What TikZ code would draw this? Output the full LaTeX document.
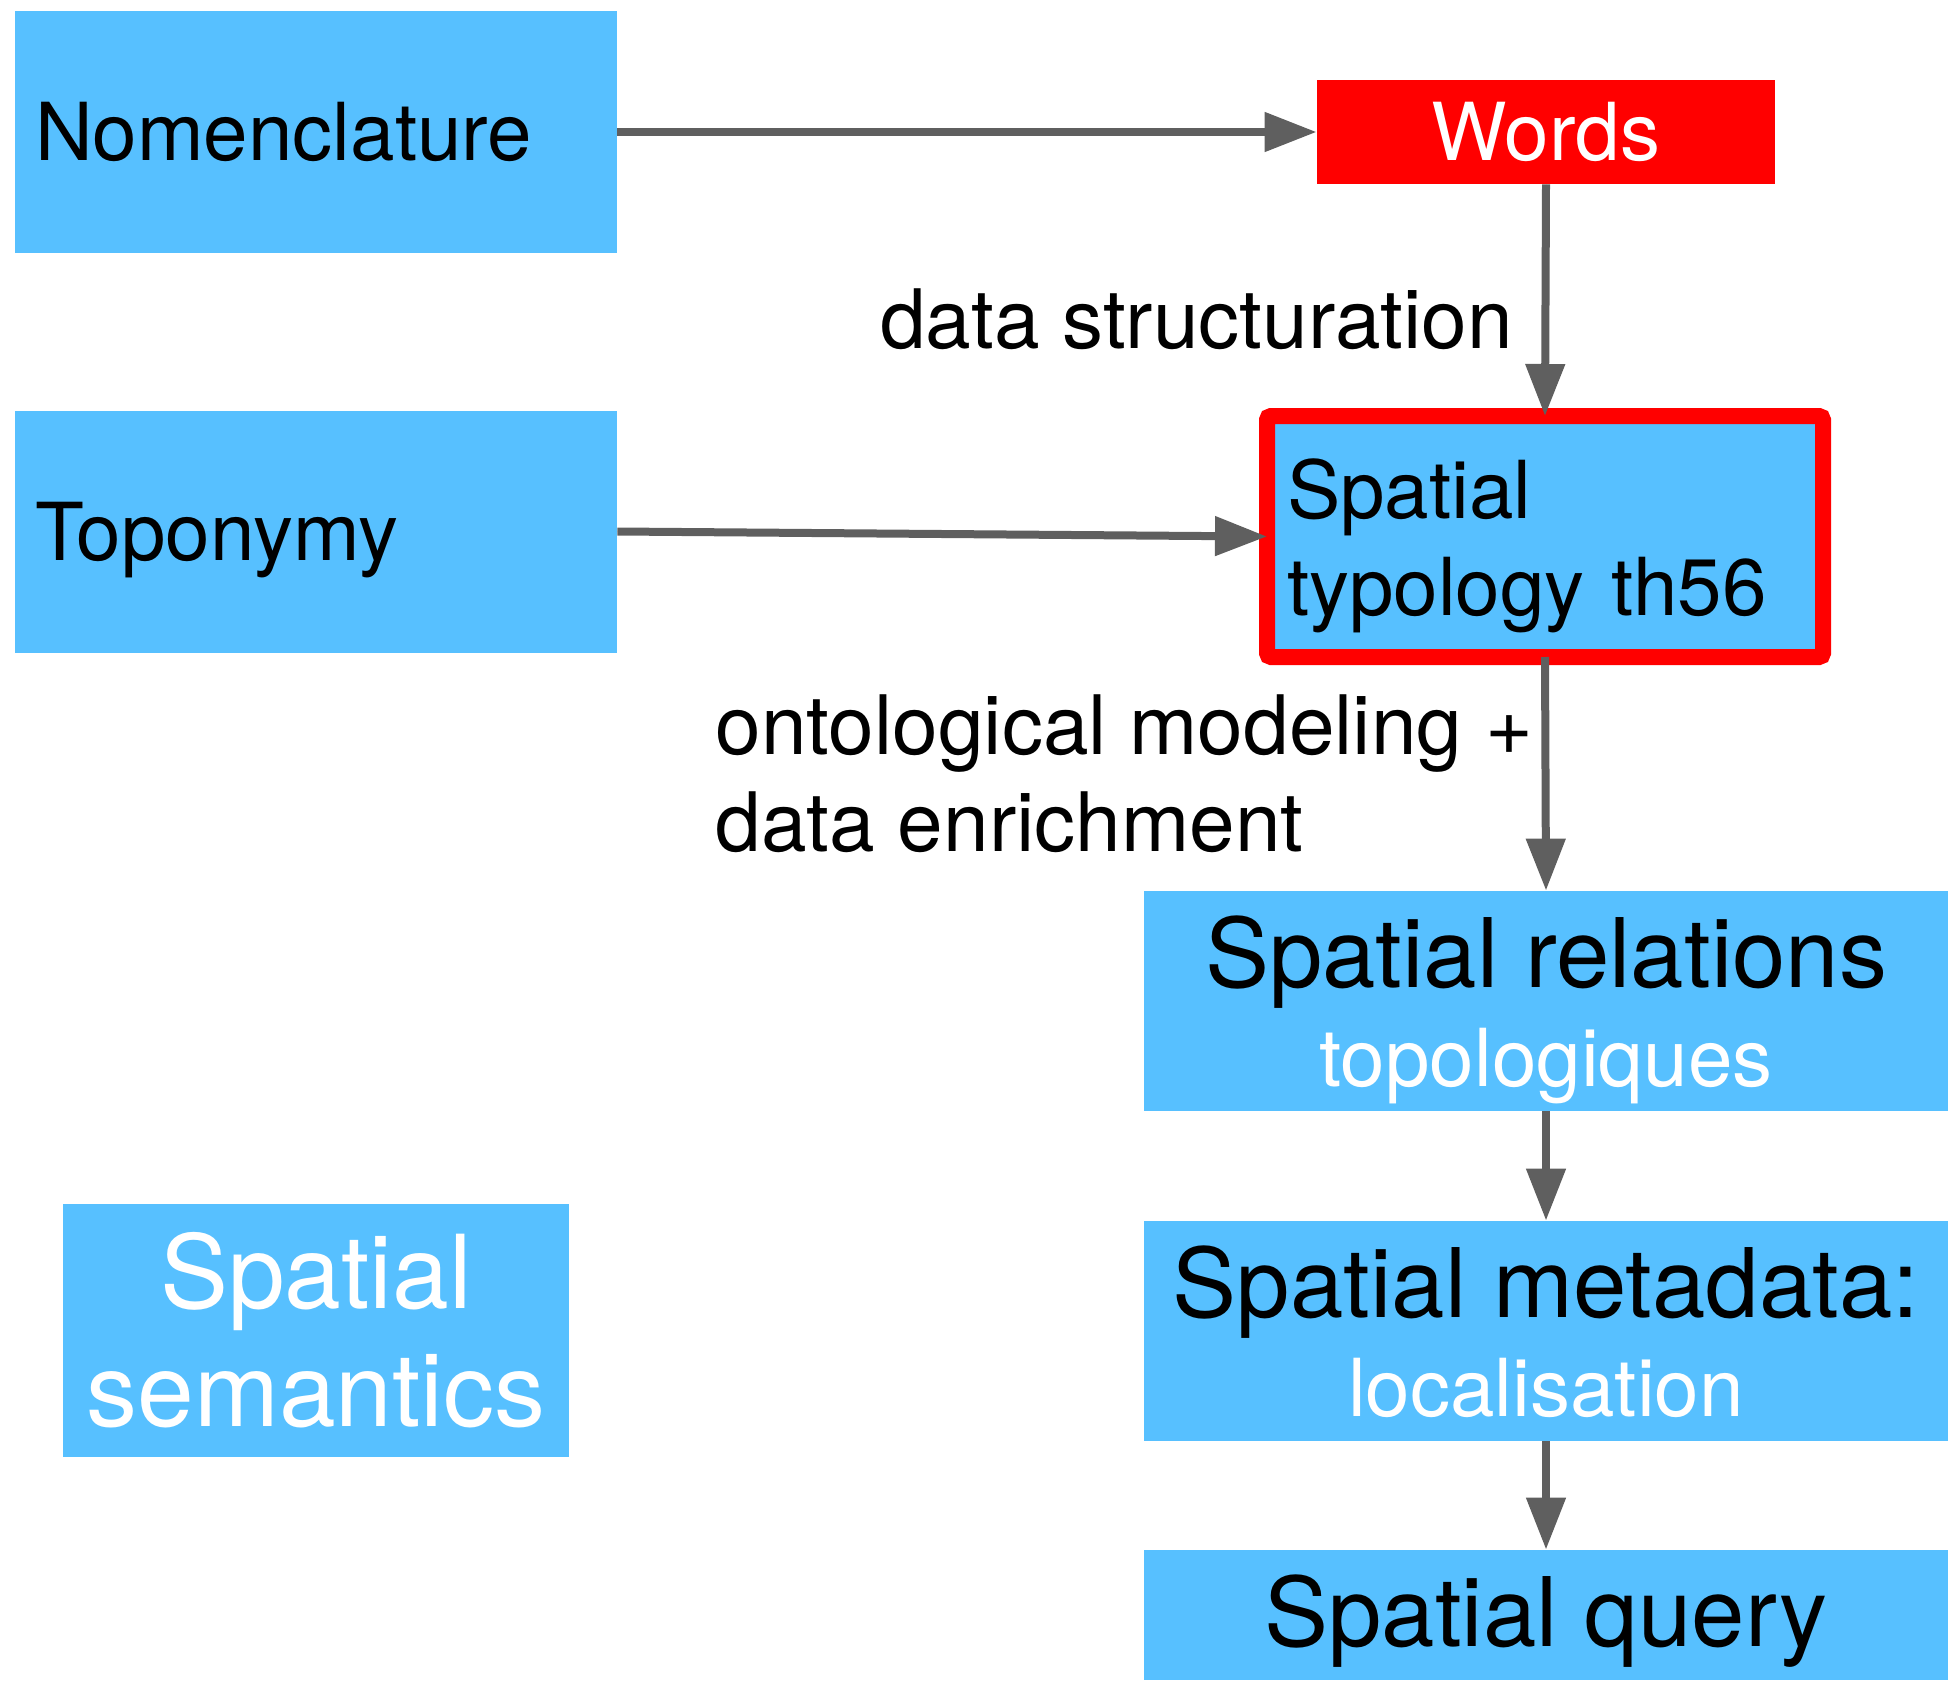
\documentclass[tikz,border=0pt]{standalone}
\usepackage{fontspec}
\setmainfont{TeX Gyre Heros}
\usetikzlibrary{arrows.meta,positioning}
\definecolor{boxblue}{HTML}{57C0FF}
\definecolor{arrowgray}{HTML}{5F5F5F}
\newcommand{\normfont}{\fontsize{40}{48.5}\selectfont}
\newcommand{\lblfont}{\fontsize{41}{48.5}\selectfont}
\newcommand{\bigfont}{\fontsize{48}{50}\selectfont}
\newcommand{\hugefont}{\fontsize{51}{59}\selectfont}

\begin{document}
\begin{tikzpicture}[x=0.5pt, y=-0.5pt,
    box/.style={fill=boxblue, inner sep=0pt},
    lbl/.style={font=\lblfont, inner sep=0pt, text=black},
    >={Triangle[length=26pt, width=19pt]},
    flow/.style={->, draw=arrowgray, fill=arrowgray, line width=4pt}]
  \useasboundingbox (0,0) rectangle (1948,1686);

  % sources
  \node[box, minimum width=301pt, minimum height=121pt, text width=281pt, align=left, font=\normfont] (nomen) at (316,132) {Nomenclature};
  \node[box, minimum width=301pt, minimum height=121pt, text width=281pt, align=left, font=\normfont, text depth=0pt] (topo) at (316,531.5) {Toponymy};
  \node[box, minimum width=253pt, minimum height=126.5pt, align=center, font=\hugefont, text=white] (sem) at (316,1330.5) {Spatial\\semantics};

  % processing chain
  \node[fill=red, inner sep=0pt, minimum width=229pt, minimum height=52pt, font=\normfont, text=white] (words) at (1546,132) {Words};
  \node[box, draw=red, line width=8pt, outer sep=0pt, rounded corners=2pt, minimum width=278pt, minimum height=120.5pt, text width=258pt, align=left, font=\normfont, text height=39pt] (typo) at (1545,536.5) {Spatial\\typology th56};
  \node[box, minimum width=402pt, minimum height=110pt, align=center, font=\normfont, text depth=0pt] (rel) at (1546,1001) {{\bigfont Spatial relations}\\[1pt]{\color{white}topologiques}};
  \node[box, minimum width=402pt, minimum height=110pt, align=center, font=\normfont, text depth=-2pt] (meta) at (1546,1331) {{\bigfont Spatial metadata:}\\[1pt]{\color{white}localisation}};
  \node[box, minimum width=402pt, minimum height=65pt, font=\bigfont, text depth=4pt] (query) at (1546,1615) {Spatial query};

  % connectors
  \draw[flow] (nomen.east) -- (words.west);
  \draw[flow] (topo.east) -- (typo.west);
  \draw[flow] (words.south) -- node[lbl, pos=0.583, anchor=east, xshift=-14.3pt] {data structuration} (typo.north);
  \draw[flow] (typo.south) -- node[lbl, pos=0.5, anchor=east, xshift=-4.3pt, align=left] {ontological modeling +\\data enrichment} (rel.north);
  \draw[flow] (rel.south) -- (meta.north);
  \draw[flow] (meta.south) -- (query.north);
\end{tikzpicture}
\end{document}
